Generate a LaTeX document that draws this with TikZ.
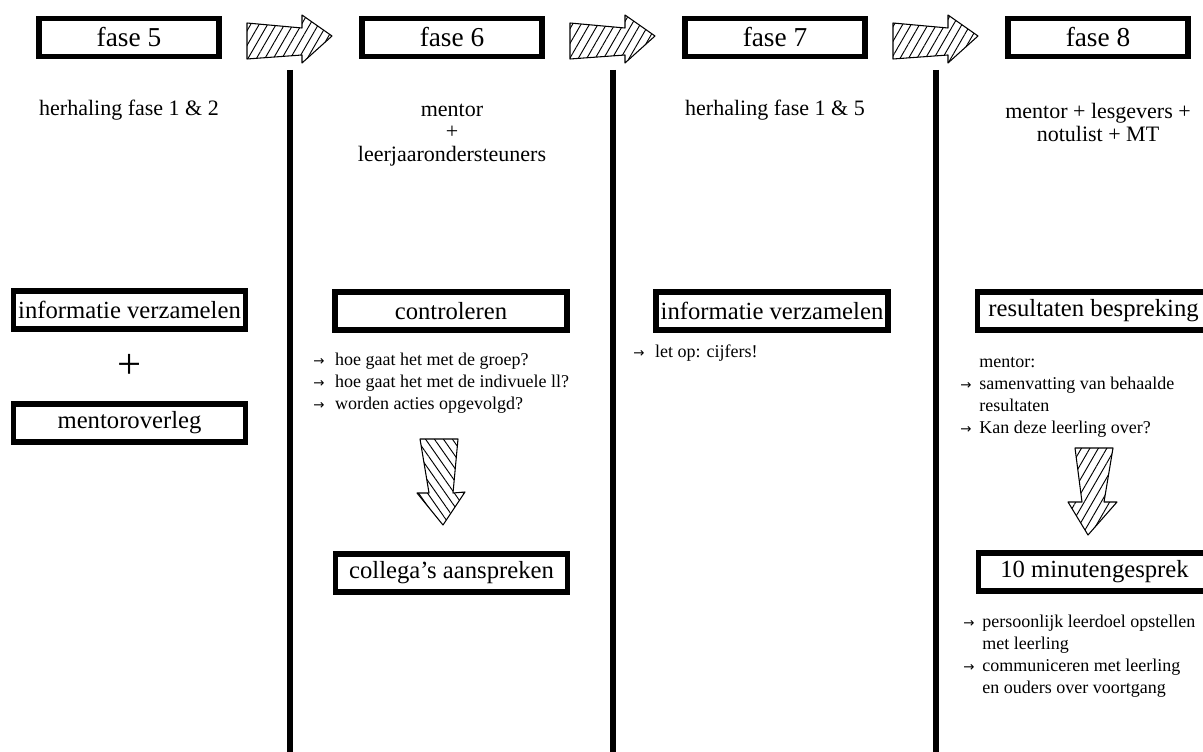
\documentclass[tikz,border=0pt]{standalone}
\usepackage{fontspec}
\setmainfont{Liberation Serif}
\newfontfamily\pijlfont{DejaVu Sans}
\usetikzlibrary{patterns.meta}

\newcommand{\pijl}{{\pijlfont\fontsize{10}{12}\selectfont →}}

\begin{document}
\begin{tikzpicture}[
    x=0.75pt, y=-0.75pt,
    fasebox/.style={
        rectangle,
        draw,
        line width=3.8pt,
        minimum width=135pt,
        minimum height=28.5pt,
        inner sep=0pt,
        font=\fontsize{20.5}{24}\selectfont
    },
    stapbox/.style={
        rectangle,
        draw,
        line width=3.8pt,
        minimum width=174pt,
        minimum height=28.5pt,
        inner sep=0pt,
        font=\fontsize{18.5}{22}\selectfont
    },
    ondertitel/.style={
        align=center,
        font=\fontsize{16.5}{17}\selectfont
    },
    lijst/.style={
        anchor=north west,
        inner sep=0pt,
        font=\fontsize{13.5}{16.5}\selectfont
    },
    scheiding/.style={
        line width=3.8pt
    },
    pijlvorm/.style={
        draw,
        line width=0.8pt,
        line join=round,
        pattern={Lines[angle=#1, distance=5.5pt, line width=0.7pt]}
    }
]
\useasboundingbox (0,0) rectangle (1203,752);
\clip (0,0) rectangle (1203,752);

% Fase headers
\node[fasebox] (fase5) at (129,37.5) {fase 5};
\node[fasebox] (fase6) at (452,37.5) {fase 6};
\node[fasebox] (fase7) at (775,37.5) {fase 7};
\node[fasebox] (fase8) at (1098,37.5) {fase 8};

% Hatched arrows between the headers
\foreach \dx in {0,323,646} {
    \begin{scope}[xshift=\dx*0.75pt]
        \path[pijlvorm=60] (247,23) -- (302,28) -- (302,15) -- (332,36)
            -- (302,63) -- (302,55) -- (247,59) -- cycle;
    \end{scope}
}

% Separators
\foreach \x in {290,613,936}
    \draw[scheiding] (\x,70) -- (\x,760);

% Participants
\node[ondertitel] (deel5) at (129,110) {herhaling fase 1 \& 2};
\node[ondertitel, anchor=north] (deel6) at (452,99) {mentor\\+\\leerjaarondersteuners};
\node[ondertitel] (deel7) at (775,110) {herhaling fase 1 \& 5};
\node[ondertitel, anchor=north] (deel8) at (1098,99) {mentor + lesgevers +\\notulist + MT};

% Fase 5
\node[stapbox] (info5) at (129.5,310) {informatie verzamelen};
\node[font=\fontsize{32}{32}\selectfont] (plus5) at (129.5,366) {+};
\node[stapbox] (overleg5) at (129.5,423) {mentoroverleg};

% Fase 6
\node[stapbox] (controle6) at (451,311) {controleren};
\node[lijst] (lijst6) at (313,350) {\begin{tabular}{@{}l@{\hspace{8pt}}l@{}}
    \pijl & hoe gaat het met de groep?\\
    \pijl & hoe gaat het met de indivuele ll?\\
    \pijl & worden acties opgevolgd?
\end{tabular}};
\path[pijlvorm=-55] (420,439) -- (458,439) -- (453,493) -- (465,492)
    -- (443,525) -- (417,493) -- (429,493) -- cycle;
\node[stapbox] (collega6) at (451.5,573) {collega’s aanspreken};

% Fase 7
\node[stapbox] (info7) at (772,311) {informatie verzamelen};
\node[lijst] (lijst7) at (633,342) {\begin{tabular}{@{}l@{\hspace{8pt}}l@{}}
    \pijl & let op: cijfers!
\end{tabular}};

% Fase 8
\node[stapbox] (resultaat8) at (1093.5,311) {resultaten bespreking};
\node[lijst] (lijst8) at (960,352) {\begin{tabular}{@{}l@{\hspace{6pt}}l@{}}
          & mentor:\\
    \pijl & samenvatting van behaalde\\
          & resultaten\\
    \pijl & Kan deze leerling over?
\end{tabular}};
\path[pijlvorm=60] (1075,448) -- (1113,448) -- (1104,502) -- (1117,502)
    -- (1088,535) -- (1068,502) -- (1082,502) -- cycle;
\node[stapbox] (gesprek8) at (1094.5,572) {10 minutengesprek};
\node[lijst] (lijst8b) at (963,612) {\begin{tabular}{@{}l@{\hspace{6pt}}l@{}}
    \pijl & persoonlijk leerdoel opstellen\\
          & met leerling\\
    \pijl & communiceren met leerling\\
          & en ouders over voortgang
\end{tabular}};

\end{tikzpicture}
\end{document}
